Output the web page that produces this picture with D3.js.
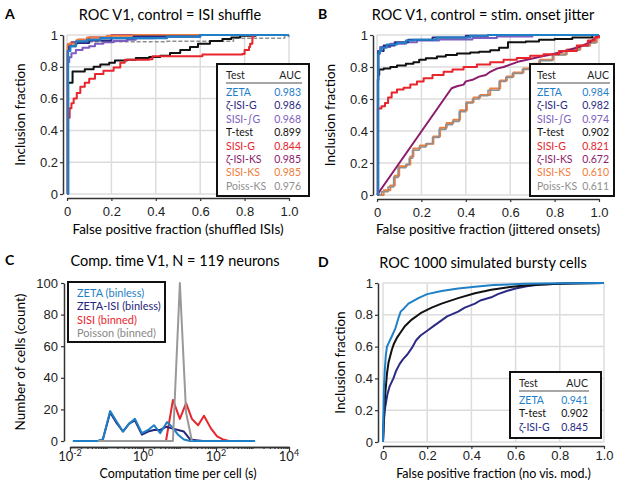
<!DOCTYPE html>
<html>
<head>
<meta charset="utf-8">
<script src="https://cdn.jsdelivr.net/npm/d3@7"></script>
<style>
body{margin:0;background:#fff;}
svg{font-family:Lato,"Noto Sans","DejaVu Sans",sans-serif;}
</style>
</head>
<body>
<svg id="fig" width="617" height="481"></svg>
<script>
// ---- data ----
var fracTicks = [0,0.2,0.4,0.6,0.8,1];
var xTickLabels = ["0","0.2","0.4","0.6","0.8","1.0"];
var yTickLabels = ["0","0.2","0.4","0.6","0.8","1"];

// panel A: ROC, control = ISI shuffle
var testsA = ["ZETA","\u03b6-ISI-G","SISI-\u222bG","T-test","SISI-G","\u03b6-ISI-KS","SISI-KS","Poiss-KS"];
var aucA = ["0.983","0.986","0.968","0.899","0.844","0.985","0.985","0.976"];
var zetaA = [[0,0],[0.005,0.9],[0.015,0.93],[0.04,0.96],[0.09,0.97],[0.15,0.98],[0.45,0.99],[0.6,1],[1,1]];
var zisiGA = [[0,0],[0.003,0.9],[0.01,0.93],[0.04,0.95],[0.1,0.965],[0.2,0.98],[0.3,0.99],[0.6,1],[1,1]];
var sisiIGA = [[0,0],[0.004,0.83],[0.01,0.86],[0.02,0.885],[0.04,0.905],[0.07,0.92],[0.1,0.93],[0.126,0.945],[0.164,0.955],[0.21,0.963],[0.27,0.97],[0.31,0.98],[0.39,0.99],[0.6,1],[1,1]];
var ttestA = [[0,0],[0.005,0.7],[0.025,0.77],[0.08,0.785],[0.12,0.8],[0.15,0.815],[0.19,0.825],[0.216,0.84],[0.27,0.845],[0.31,0.855],[0.37,0.862],[0.42,0.87],[0.464,0.887],[0.51,0.905],[0.554,0.925],[0.59,0.945],[0.644,0.962],[0.7,0.975],[0.74,0.985],[0.78,0.995],[0.85,1],[1,1]];
var sisiGA = [[0,0],[0.005,0.48],[0.012,0.54],[0.02,0.57],[0.03,0.6],[0.044,0.635],[0.06,0.675],[0.08,0.7],[0.1,0.725],[0.126,0.755],[0.164,0.775],[0.21,0.795],[0.24,0.825],[0.26,0.845],[0.37,0.848],[0.385,0.866],[0.607,0.866],[0.61,0.877],[0.79,0.88],[0.8,0.905],[0.82,0.925],[0.825,0.945],[0.835,0.99],[0.84,1],[1,1]];
var zisiKSA = [[0,0],[0.004,0.94],[0.02,0.955],[0.05,0.97],[0.1,0.985],[0.2,0.998],[0.3,1],[1,1]];
var sisiKSA = [[0,0],[0.003,0.935],[0.01,0.947],[0.045,0.97],[0.09,0.985],[0.18,0.995],[0.3,1],[1,1]];
var poissA = [[0,0],[0.005,0.94],[0.045,0.958],[0.45,0.96],[0.75,0.98],[0.98,0.99],[1,1]];

// panel B: ROC, control = stim. onset jitter
var testsB = testsA;
var aucB = ["0.984","0.982","0.974","0.902","0.821","0.672","0.610","0.611"];
var zetaB = [[0,0],[0.005,0.88],[0.01,0.9],[0.02,0.92],[0.044,0.94],[0.09,0.95],[0.13,0.965],[0.164,0.97],[0.27,0.985],[0.42,0.995],[0.5,1],[1,1]];
var zisiGB = [[0,0],[0.005,0.9],[0.03,0.935],[0.08,0.955],[0.14,0.97],[0.25,0.985],[0.4,0.995],[0.5,1],[1,1]];
var sisiIGB = [[0,0],[0.003,0.72],[0.007,0.885],[0.014,0.925],[0.06,0.945],[0.13,0.955],[0.18,0.965],[0.28,0.972],[0.43,0.982],[0.54,0.99],[0.7,1],[1,1]];
var ttestB = [[0,0],[0.005,0.75],[0.01,0.785],[0.03,0.79],[0.06,0.8],[0.09,0.81],[0.13,0.82],[0.164,0.83],[0.19,0.845],[0.22,0.855],[0.27,0.865],[0.31,0.875],[0.36,0.885],[0.42,0.89],[0.46,0.895],[0.51,0.905],[0.55,0.92],[0.59,0.955],[0.67,0.96],[0.73,0.97],[0.8,0.975],[0.88,0.985],[0.97,1],[1,1]];
var sisiGB = [[0,0],[0.004,0.54],[0.02,0.555],[0.036,0.575],[0.05,0.61],[0.066,0.64],[0.09,0.66],[0.12,0.67],[0.15,0.69],[0.18,0.71],[0.21,0.73],[0.25,0.75],[0.3,0.77],[0.34,0.785],[0.39,0.8],[0.45,0.815],[0.51,0.83],[0.57,0.845],[0.63,0.856],[0.69,0.87],[0.75,0.88],[0.82,0.9],[0.9,0.935],[0.95,0.965],[0.98,0.985],[1,1]];
var zisiKSB = [[0,0],[0.336,0.667],[0.36,0.68],[0.39,0.69],[0.4,0.71],[0.43,0.72],[0.46,0.74],[0.49,0.75],[0.51,0.77],[0.54,0.79],[0.57,0.8],[0.6,0.815],[0.64,0.835],[0.69,0.85],[0.74,0.865],[0.79,0.88],[0.86,0.905],[0.92,0.93],[0.96,0.955],[0.98,0.98],[1,1]];
var sisiKSB = [[0,0],[0.03,0.03],[0.06,0.06],[0.08,0.12],[0.1,0.18],[0.134,0.19],[0.15,0.24],[0.164,0.29],[0.194,0.31],[0.224,0.32],[0.254,0.365],[0.284,0.42],[0.314,0.45],[0.344,0.47],[0.374,0.53],[0.405,0.58],[0.435,0.61],[0.465,0.625],[0.51,0.665],[0.555,0.715],[0.585,0.74],[0.615,0.765],[0.66,0.79],[0.705,0.82],[0.735,0.845],[0.795,0.88],[0.855,0.91],[0.916,0.935],[0.96,0.955],[0.99,1],[1,1]];
var poissB = [[0,0],[0.02,0.02],[0.05,0.05],[0.075,0.11],[0.095,0.17],[0.13,0.19],[0.145,0.23],[0.16,0.28],[0.19,0.3],[0.22,0.32],[0.25,0.36],[0.28,0.41],[0.31,0.44],[0.34,0.46],[0.37,0.52],[0.4,0.575],[0.43,0.6],[0.46,0.62],[0.5,0.655],[0.55,0.71],[0.58,0.735],[0.61,0.76],[0.655,0.785],[0.7,0.815],[0.73,0.84],[0.79,0.875],[0.85,0.905],[0.91,0.93],[0.955,0.95],[0.985,0.99],[1,1]];

// panel C: computation time histograms (log10 seconds, count)
var timeLegend = ["ZETA (binless)","ZETA-ISI (binless)","SISI (binned)","Poisson (binned)"];
var zetaLogT = [-1.92,-1.23,-1.10,-0.90,-0.74,-0.55,-0.38,-0.22,-0.03,0.14,0.30,0.47,0.66,0.79,0.96,1.12,1.29,3.07];
var zetaCount = [0,0,1,19,13,6,11,14,5,7,10,5,12,9,4,1,0,0];
var zisiLogT = [-1.92,-1.23,-1.10,-0.90,-0.74,-0.55,-0.38,-0.22,-0.03,0.14,0.30,0.47,0.63,0.79,0.96,1.12,1.29,1.45,1.64,3.07];
var zisiCount = [0,0,1,18,12,6,11,13,4,6,7,7,9,8,7,6,1,0.5,0,0];
var sisiLogT = [0.63,0.82,1.01,1.18,1.34,1.51,1.67,1.86,2.03,2.19,2.36];
var sisiCount = [0,26,14,24,14,10,16,8,3,1,0];
var poissLogT = [-1.23,0.82,1.01,1.18,1.34];
var poissCount = [0,0,100,18,0];
var countTicks = [0,20,40,60,80,100];
var timeMajor = [-2,0,2,4];

// panel D: ROC 1000 simulated bursty cells
var testsD = ["ZETA","T-test","\u03b6-ISI-G"];
var aucD = ["0.941","0.902","0.845"];
var zetaD = [[0,0],[0.004,0.33],[0.008,0.45],[0.013,0.55],[0.018,0.6],[0.04,0.665],[0.056,0.715],[0.07,0.78],[0.08,0.82],[0.095,0.84],[0.115,0.87],[0.16,0.905],[0.2,0.93],[0.265,0.95],[0.34,0.965],[0.416,0.977],[0.5,0.987],[0.64,0.995],[0.8,0.998],[1,1]];
var ttestD = [[0,0],[0.005,0.2],[0.01,0.3],[0.018,0.43],[0.025,0.5],[0.04,0.58],[0.05,0.62],[0.065,0.66],[0.08,0.69],[0.1,0.73],[0.13,0.77],[0.17,0.81],[0.22,0.845],[0.265,0.87],[0.34,0.905],[0.416,0.935],[0.49,0.958],[0.56,0.972],[0.64,0.984],[0.79,0.995],[1,1]];
var zisiGD = [[0,0],[0.005,0.15],[0.01,0.22],[0.02,0.3],[0.03,0.35],[0.047,0.4],[0.06,0.45],[0.075,0.49],[0.09,0.52],[0.11,0.55],[0.13,0.59],[0.15,0.64],[0.17,0.67],[0.2,0.7],[0.23,0.73],[0.265,0.765],[0.29,0.79],[0.34,0.82],[0.37,0.845],[0.416,0.87],[0.44,0.89],[0.49,0.91],[0.52,0.93],[0.56,0.95],[0.6,0.965],[0.65,0.98],[0.71,0.99],[0.86,0.998],[1,1]];

// ---- colours ----
var cZeta = "#1f80c8", cZisiG = "#2b2b84", cSisiIG = "#7e5dc0", cTtest = "#111111",
    cSisiG = "#e8252d", cZisiKS = "#8c1b6c", cSisiKS = "#f07c3c", cPoiss = "#8f8f8f";
var colorsAB = [cZeta,cZisiG,cSisiIG,cTtest,cSisiG,cZisiKS,cSisiKS,cPoiss];

var svg = d3.select("#fig");

function styleAxis(ax){
  ax.select(".domain").attr("stroke","#333").attr("stroke-width",1.5);
  ax.selectAll(".tick line").attr("stroke","#333").attr("stroke-width",1.2);
  ax.selectAll("text").attr("font-size",13).attr("fill","#222").attr("font-family",null);
}

function legendBox(g,o,names,aucs,colors){
  var fs = 10.5;
  g.append("rect").attr("x",o.x).attr("y",o.y).attr("width",o.w).attr("height",o.h)
    .attr("fill","#fff").attr("stroke","#111").attr("stroke-width",2);
  g.append("text").attr("x",o.tx).attr("y",o.y+15).attr("font-size",fs).attr("fill","#222").text("Test");
  g.append("text").attr("x",o.vx).attr("y",o.y+15).attr("font-size",fs).attr("fill","#222")
    .attr("text-anchor","end").text("AUC");
  g.append("line").attr("x1",o.tx).attr("x2",o.vx+1).attr("y1",o.y+19).attr("y2",o.y+19)
    .attr("stroke","#888").attr("stroke-width",1.3);
  names.forEach(function(n,i){
    var yy = o.y+32+i*13.4;
    g.append("text").attr("x",o.tx).attr("y",yy).attr("font-size",fs).attr("fill",colors[i]).text(n);
    g.append("text").attr("x",o.vx).attr("y",yy).attr("font-size",fs).attr("fill",colors[i])
      .attr("text-anchor","end").text(aucs[i]);
  });
}

function rocPanel(o){
  var g = svg.append("g");
  var x = d3.scaleLinear().domain([0,1]).range([o.left,o.right]);
  var y = d3.scaleLinear().domain([0,1]).range([o.bottom,o.top]);

  g.append("g").selectAll("line").data(fracTicks).join("line")
    .attr("x1",d=>x(d)).attr("x2",d=>x(d)).attr("y1",o.top).attr("y2",o.bottom)
    .attr("stroke","#dcdcdc").attr("stroke-width",1.5);
  g.append("g").selectAll("line").data(fracTicks).join("line")
    .attr("y1",d=>y(d)).attr("y2",d=>y(d)).attr("x1",o.left).attr("x2",o.right)
    .attr("stroke","#dcdcdc").attr("stroke-width",1.5);

  var ax = g.append("g").attr("transform","translate(0,"+o.xAxisY+")")
    .call(d3.axisBottom(x).tickValues(fracTicks).tickFormat((d,i)=>xTickLabels[i]).tickSize(3).tickSizeOuter(0).tickPadding(o.tickPad));
  styleAxis(ax);
  var ay = g.append("g").attr("transform","translate("+o.yAxisX+",0)")
    .call(d3.axisLeft(y).tickValues(fracTicks).tickFormat((d,i)=>yTickLabels[i]).tickSize(3).tickSizeOuter(0).tickPadding(2));
  styleAxis(ay);

  o.series.forEach(function(s){
    var line = d3.line().x(d=>x(d[0])).y(d=>y(d[1])).curve(s.curve || d3.curveStepAfter);
    g.append("path").datum(s.data).attr("d",line).attr("fill","none")
      .attr("stroke",s.color).attr("stroke-width",s.width || 2)
      .attr("stroke-dasharray",s.dash || null).attr("stroke-linejoin","round");
  });

  g.append("text").attr("x",o.letterX).attr("y",o.titleY-1).attr("font-size",14).attr("font-weight","bold").text(o.letter);
  g.append("text").attr("x",o.titleX).attr("y",o.titleY).attr("font-size",14.5).attr("text-anchor","middle").text(o.title);
  g.append("text").attr("x",(o.left+o.right)/2).attr("y",o.xTitleY).attr("font-size",o.xTitleSize).attr("text-anchor","middle").text(o.xTitle);
  g.append("text").attr("transform","translate("+o.yTitleX+","+((o.top+o.bottom)/2)+") rotate(-90)")
    .attr("font-size",13.5).attr("text-anchor","middle").text("Inclusion fraction");

  legendBox(g,o.legend,o.names,o.aucs,o.colors);
}

// A
rocPanel({
  left:67,right:289,top:35,bottom:194,xAxisY:198,yAxisX:63,tickPad:6,
  letter:"A",letterX:5,title:"ROC V1, control = ISI shuffle",titleX:170,titleY:20,
  xTitle:"False positive fraction (shuffled ISIs)",xTitleY:234,xTitleSize:13.5,yTitleX:25,
  series:[
    {data:poissA,color:cPoiss,dash:"4,2",width:1.5},
    {data:sisiIGA,color:cSisiIG},
    {data:ttestA,color:cTtest},
    {data:sisiGA,color:cSisiG},
    {data:zisiKSA,color:cZisiKS},
    {data:sisiKSA,color:cSisiKS},
    {data:zisiGA,color:cZisiG},
    {data:zetaA,color:cZeta,width:2.2}
  ],
  legend:{x:217,y:64,w:92,h:132,tx:226,vx:301},
  names:testsA,aucs:aucA,colors:colorsAB
});

// B
rocPanel({
  left:377,right:599,top:35,bottom:195,xAxisY:199,yAxisX:373,tickPad:6,
  letter:"B",letterX:318,title:"ROC V1, control = stim. onset jitter",titleX:483,titleY:20,
  xTitle:"False positive fraction (jittered onsets)",xTitleY:234,xTitleSize:13.5,yTitleX:335,
  series:[
    {data:sisiKSB,color:cSisiKS},
    {data:poissB,color:cPoiss,width:1.6},
    {data:zisiKSB,color:cZisiKS,curve:d3.curveLinear},
    {data:sisiGB,color:cSisiG},
    {data:ttestB,color:cTtest},
    {data:sisiIGB,color:cSisiIG},
    {data:zisiGB,color:cZisiG},
    {data:zetaB,color:cZeta}
  ],
  legend:{x:530,y:64,w:84,h:132,tx:537,vx:609},
  names:testsB,aucs:aucB,colors:colorsAB
});

// C
(function(){
  var g = svg.append("g");
  var x = d3.scaleLog().domain([1e-2,1e4]).range([70,289]);
  var y = d3.scaleLinear().domain([0,100]).range([441,283]);
  var minor = [];
  d3.range(-2,4).forEach(function(e){ d3.range(1,10).forEach(function(m){ minor.push(m*Math.pow(10,e)); }); });
  minor.push(1e4);
  var ax = g.append("g").attr("transform","translate(0,447)")
    .call(d3.axisBottom(x).tickValues(minor).tickFormat("").tickSize(2).tickSizeOuter(0));
  styleAxis(ax);
  var ax2 = g.append("g").attr("transform","translate(0,447)")
    .call(d3.axisBottom(x).tickValues(timeMajor.map(e=>Math.pow(10,e))).tickFormat("").tickSize(4).tickSizeOuter(0));
  styleAxis(ax2);
  timeMajor.forEach(function(e){
    var t = g.append("text").attr("x",x(Math.pow(10,e))).attr("y",461).attr("font-size",13)
      .attr("text-anchor","middle").attr("fill","#222");
    t.append("tspan").text("10");
    t.append("tspan").attr("dy",-5).attr("font-size",9).text(String(e));
  });
  var ay = g.append("g").attr("transform","translate(64,0)")
    .call(d3.axisLeft(y).tickValues(countTicks).tickSize(3).tickSizeOuter(0).tickPadding(3));
  styleAxis(ay);

  var line = d3.line().x(d=>x(Math.pow(10,d[0]))).y(d=>y(d[1]));
  var sets = [
    [sisiLogT,sisiCount,cSisiG],
    [zisiLogT,zisiCount,"#26267a"],
    [zetaLogT,zetaCount,"#1f7fc6"],
    [poissLogT,poissCount,"#999999"]
  ];
  sets.forEach(function(s){
    g.append("path").datum(d3.zip(s[0],s[1])).attr("d",line).attr("fill","none")
      .attr("stroke",s[2]).attr("stroke-width",2).attr("stroke-linejoin","round");
  });

  g.append("rect").attr("x",68).attr("y",282).attr("width",97).attr("height",60)
    .attr("fill","#fff").attr("stroke","#111").attr("stroke-width",2);
  var lc = ["#1f7fc6","#26267a",cSisiG,"#888"];
  timeLegend.forEach(function(n,i){
    g.append("text").attr("x",77).attr("y",297+i*13.4).attr("font-size",11).attr("fill",lc[i]).text(n);
  });

  g.append("text").attr("x",5).attr("y",265).attr("font-size",14).attr("font-weight","bold").text("C");
  g.append("text").attr("x",175).attr("y",266).attr("font-size",14.5).attr("text-anchor","middle").text("Comp. time V1, N = 119 neurons");
  g.append("text").attr("x",178).attr("y",478).attr("font-size",12.5).attr("text-anchor","middle").text("Computation time per cell (s)");
  g.append("text").attr("transform","translate(25,362) rotate(-90)").attr("font-size",13.5)
    .attr("text-anchor","middle").text("Number of cells (count)");
})();

// D
rocPanel({
  left:383,right:604,top:283,bottom:442,xAxisY:446,yAxisX:378,tickPad:2,
  letter:"D",letterX:318,title:"ROC 1000 simulated bursty cells",titleX:483,titleY:268,
  xTitle:"False positive fraction (no vis. mod.)",xTitleY:478,xTitleSize:12.5,yTitleX:345,
  series:[
    {data:zisiGD,color:cZisiG,curve:d3.curveLinear},
    {data:ttestD,color:cTtest,curve:d3.curveLinear},
    {data:zetaD,color:cZeta,curve:d3.curveLinear}
  ],
  legend:{x:510,y:372,w:91,h:66,tx:519,vx:588},
  names:testsD,aucs:aucD,colors:[cZeta,cTtest,cZisiG]
});
</script>
</body>
</html>
